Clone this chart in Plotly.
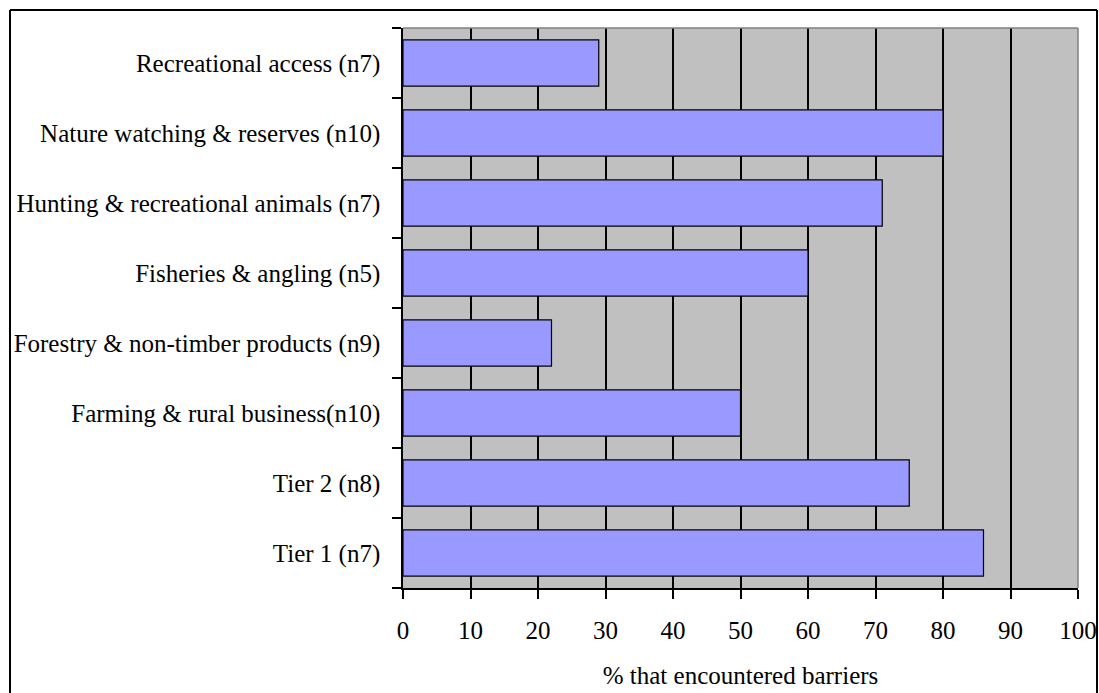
import plotly.graph_objects as go

# Sectors surveyed, listed bottom-to-top as drawn on the category axis
categories = [
    "Tier 1 (n7)",
    "Tier 2 (n8)",
    "Farming & rural business(n10)",
    "Forestry & non-timber products (n9)",
    "Fisheries & angling (n5)",
    "Hunting & recreational animals (n7)",
    "Nature watching & reserves (n10)",
    "Recreational access (n7)",
]
pct_barriers = [86, 75, 50, 22, 60, 71, 80, 29]
x_ticks = [0, 10, 20, 30, 40, 50, 60, 70, 80, 90, 100]

W, H = 1099, 693
ML, MR, MT, MB = 403, 21, 28, 105
FONT = "'Liberation Serif', 'Times New Roman', serif"

fig = go.Figure(
    go.Bar(
        x=pct_barriers,
        y=categories,
        orientation="h",
        marker=dict(color="#9999FF", line=dict(color="black", width=1.2)),
        width=0.66,
        hoverinfo="x+y",
    )
)

# pixel -> paper helpers for the chart frame
pw = W - ML - MR
ph = H - MT - MB


def px_x(p):
    return (p - ML) / pw


def px_y(p):
    return (H - MB - p) / ph


shapes = [
    # outer chart frame (bottom edge runs off the page)
    dict(type="line", xref="paper", yref="paper", x0=px_x(10), x1=px_x(10),
         y0=px_y(10), y1=px_y(H + 5), line=dict(color="black", width=2)),
    dict(type="line", xref="paper", yref="paper", x0=px_x(10), x1=px_x(1097),
         y0=px_y(10), y1=px_y(10), line=dict(color="black", width=2)),
    dict(type="line", xref="paper", yref="paper", x0=px_x(1097), x1=px_x(1097),
         y0=px_y(10), y1=px_y(H + 5), line=dict(color="black", width=2)),
    # grey plot-area border on top and right
    dict(type="line", xref="paper", yref="paper", x0=0, x1=1, y0=1, y1=1,
         line=dict(color="#808080", width=1.5), layer="above"),
    dict(type="line", xref="paper", yref="paper", x0=1, x1=1, y0=0, y1=1,
         line=dict(color="#808080", width=1.5), layer="above"),
]

fig.update_layout(
    width=W,
    height=H,
    margin=dict(l=ML, r=MR, t=MT, b=MB, pad=0, autoexpand=False),
    paper_bgcolor="white",
    plot_bgcolor="#C0C0C0",
    font=dict(family=FONT, size=25, color="black"),
    showlegend=False,
    shapes=shapes,
    xaxis=dict(
        range=[0, 100],
        tickvals=x_ticks,
        ticks="outside",
        ticklen=9,
        tickwidth=1.5,
        tickcolor="black",
        showgrid=True,
        gridcolor="black",
        gridwidth=1.5,
        showline=True,
        linecolor="black",
        linewidth=1.5,
        zeroline=False,
        automargin=False,
        ticklabelstandoff=10,
        title=dict(text="% that encountered barriers", standoff=24,
                   font=dict(family=FONT, size=25)),
        fixedrange=True,
    ),
    yaxis=dict(
        type="category",
        categoryorder="array",
        categoryarray=categories,
        range=[-0.5, len(categories) - 0.5],
        ticks="outside",
        tickson="boundaries",
        ticklen=9,
        tickwidth=1.5,
        tickcolor="black",
        showgrid=False,
        showline=True,
        linecolor="black",
        linewidth=1.5,
        zeroline=False,
        automargin=False,
        ticklabelstandoff=16,
        fixedrange=True,
    ),
)

fig.write_html("out.html")
